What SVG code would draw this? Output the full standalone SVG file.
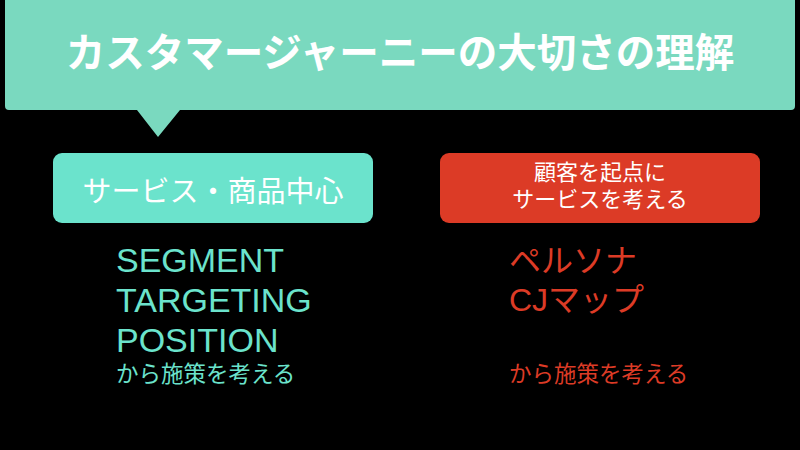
<svg xmlns="http://www.w3.org/2000/svg" width="800" height="450" viewBox="0 0 800 450">
<style>
.jp{font-family:"Liberation Sans","Noto Sans CJK JP",sans-serif}
.title{font-size:39.5px;font-weight:bold;fill:#ffffff}
.boxt{fill:#ffffff}
.teal{fill:#6BE3CC}
.red{fill:#DC3B26}
</style>
<rect width="800" height="450" fill="#000000"/>
<g id="callout">
<path d="M9,-6 H791 Q795,-6 795,-2 V106 Q795,110 791,110 H180 L158,137 L137,110 H9 Q5,110 5,106 V-2 Q5,-6 9,-6 Z" fill="#7AD9BF"/>
<text class="jp title" x="400" y="67" text-anchor="middle">カスタマージャーニーの大切さの理解</text>
</g>
<g id="left-box">
<rect x="53" y="153" width="320" height="70" rx="9" fill="#6BE3CC"/>
<text class="jp boxt" x="213" y="202" font-size="29" text-anchor="middle">サービス・商品中心</text>
</g>
<g id="right-box">
<rect x="440" y="153" width="320" height="70" rx="9" fill="#DC3B26"/>
<text class="jp boxt" x="600" y="180" font-size="22" text-anchor="middle">顧客を起点に</text>
<text class="jp boxt" x="600" y="207" font-size="22" text-anchor="middle">サービスを考える</text>
</g>
<g id="left-list">
<text class="jp teal" x="116" y="272" font-size="34">SEGMENT</text>
<text class="jp teal" x="116" y="312" font-size="34">TARGETING</text>
<text class="jp teal" x="116" y="352" font-size="34">POSITION</text>
<text class="jp teal" x="116" y="382" font-size="22.5">から施策を考える</text>
</g>
<g id="right-list">
<text class="jp red" x="509" y="272" font-size="32">ペルソナ</text>
<text class="jp red" x="509" y="311" font-size="32">CJマップ</text>
<text class="jp red" x="509" y="382" font-size="22.5">から施策を考える</text>
</g>
<g id="connectors"></g>
</svg>
